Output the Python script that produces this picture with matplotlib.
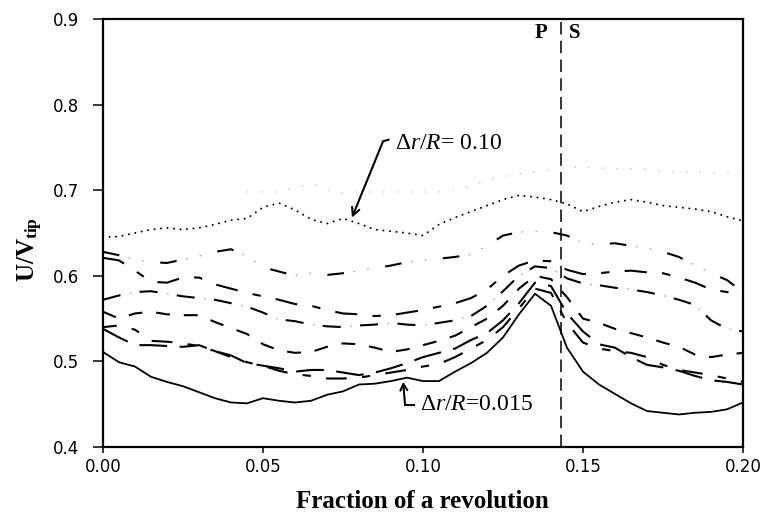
import matplotlib
matplotlib.use("Agg")
import matplotlib.pyplot as plt
from matplotlib.ticker import FormatStrFormatter

# Sampling positions (fraction of a revolution)
x_frac = [0.000, 0.005, 0.010, 0.015, 0.020, 0.025, 0.030, 0.035, 0.040, 0.045,
          0.050, 0.055, 0.060, 0.065, 0.070, 0.075, 0.080, 0.085, 0.090, 0.095,
          0.100, 0.105, 0.110, 0.115, 0.120, 0.125, 0.130, 0.135, 0.140, 0.145,
          0.150, 0.155, 0.160, 0.165, 0.170, 0.175, 0.180, 0.185, 0.190, 0.195,
          0.200]

# U/Vtip traces, outermost (dr/R = 0.10) to innermost (dr/R = 0.015)
u_dr_010 = [0.645, 0.646, 0.650, 0.654, 0.656, 0.654, 0.656, 0.660, 0.665, 0.667,
            0.680, 0.685, 0.677, 0.666, 0.661, 0.667, 0.661, 0.654, 0.652, 0.650,
            0.647, 0.660, 0.668, 0.675, 0.682, 0.689, 0.694, 0.692, 0.689, 0.684,
            0.675, 0.681, 0.686, 0.689, 0.686, 0.682, 0.680, 0.678, 0.675, 0.669,
            0.664]
u_trace_2 = [0.628, 0.624, 0.619, 0.616, 0.615, 0.619, 0.623, 0.628, 0.631, 0.623,
             0.610, 0.605, 0.600, 0.603, 0.601, 0.603, 0.606, 0.609, 0.612, 0.616,
             0.618, 0.620, 0.622, 0.625, 0.635, 0.647, 0.651, 0.652, 0.651, 0.647,
             0.638, 0.637, 0.638, 0.635, 0.632, 0.628, 0.622, 0.612, 0.603, 0.595,
             0.581]
u_trace_3 = [0.621, 0.618, 0.606, 0.593, 0.592, 0.598, 0.598, 0.590, 0.585, 0.580,
             0.576, 0.572, 0.567, 0.565, 0.560, 0.556, 0.555, 0.553, 0.554, 0.557,
             0.560, 0.564, 0.568, 0.574, 0.584, 0.600, 0.612, 0.618, 0.617, 0.607,
             0.602, 0.603, 0.605, 0.606, 0.604, 0.603, 0.598, 0.592, 0.584, 0.581,
             0.578]
u_trace_4 = [0.572, 0.577, 0.581, 0.582, 0.579, 0.576, 0.574, 0.572, 0.568, 0.564,
             0.557, 0.549, 0.547, 0.543, 0.541, 0.540, 0.542, 0.543, 0.545, 0.543,
             0.542, 0.545, 0.548, 0.553, 0.565, 0.582, 0.600, 0.611, 0.609, 0.597,
             0.591, 0.589, 0.586, 0.584, 0.581, 0.577, 0.572, 0.566, 0.548, 0.538,
             0.535]
u_trace_5 = [0.558, 0.550, 0.556, 0.558, 0.555, 0.554, 0.554, 0.546, 0.539, 0.532,
             0.520, 0.513, 0.510, 0.511, 0.517, 0.521, 0.520, 0.516, 0.511, 0.514,
             0.519, 0.524, 0.530, 0.540, 0.550, 0.565, 0.585, 0.600, 0.596, 0.575,
             0.550, 0.545, 0.538, 0.533, 0.528, 0.522, 0.517, 0.508, 0.505, 0.508,
             0.510]
u_trace_6 = [0.538, 0.528, 0.519, 0.519, 0.518, 0.517, 0.519, 0.512, 0.507, 0.498,
             0.495, 0.492, 0.488, 0.490, 0.490, 0.487, 0.484, 0.487, 0.492, 0.498,
             0.505, 0.510, 0.515, 0.525, 0.533, 0.548, 0.568, 0.592, 0.588, 0.556,
             0.535, 0.520, 0.516, 0.505, 0.496, 0.493, 0.489, 0.483, 0.478, 0.476,
             0.473]
u_trace_7 = [0.540, 0.542, 0.537, 0.524, 0.523, 0.521, 0.518, 0.512, 0.505, 0.499,
             0.495, 0.489, 0.485, 0.483, 0.480, 0.480, 0.481, 0.484, 0.487, 0.490,
             0.494, 0.497, 0.505, 0.515, 0.525, 0.540, 0.562, 0.585, 0.580, 0.545,
             0.522, 0.515, 0.512, 0.510, 0.505, 0.496, 0.490, 0.487, 0.484, 0.480,
             0.476]
u_dr_0015 = [0.511, 0.499, 0.494, 0.482, 0.476, 0.471, 0.464, 0.457, 0.452, 0.451,
             0.457, 0.454, 0.452, 0.454, 0.461, 0.465, 0.473, 0.474, 0.477, 0.481,
             0.477, 0.477, 0.488, 0.498, 0.510, 0.528, 0.555, 0.579, 0.565, 0.516,
             0.488, 0.473, 0.462, 0.451, 0.442, 0.440, 0.438, 0.440, 0.441, 0.444,
             0.452]

# faint trace above the outermost curve (starts at x = 0.045)
faint_start = 9
u_faint = [0.698, 0.698, 0.698, 0.703, 0.708, 0.700, 0.697, 0.698, 0.698, 0.698,
           0.698, 0.698, 0.698, 0.700, 0.705, 0.712, 0.716, 0.719, 0.721, 0.724,
           0.727, 0.727, 0.726, 0.725, 0.725, 0.724, 0.722, 0.721, 0.721, 0.720,
           0.720, 0.720]

blade_passage = 0.143          # pressure / suction side boundary
x_ticks = [0.00, 0.05, 0.10, 0.15, 0.20]
y_ticks = [0.4, 0.5, 0.6, 0.7, 0.8, 0.9]

plt.rcParams["lines.scale_dashes"] = False
plt.rcParams["mathtext.fontset"] = "custom"
plt.rcParams["mathtext.rm"] = "Liberation Serif"
plt.rcParams["mathtext.it"] = "Liberation Serif:italic"
plt.rcParams["mathtext.bf"] = "Liberation Serif:bold"

W, H = 767, 516
fig = plt.figure(figsize=(W / 100, H / 100), dpi=100)
ax = fig.add_axes([103 / W, 1 - 447 / H, 640 / W, 428 / H])

k = "black"
ax.plot(x_frac[faint_start:], u_faint, color="#c4c4c4", lw=1.0,
        linestyle=(0, (1.0, 9.0)))
ax.plot(x_frac, u_dr_010, color=k, lw=1.4, linestyle=(0, (0.1, 4.6)),
        dash_capstyle="round")
# long dash with faint dots in between
ax.plot(x_frac, u_trace_2, color=k, lw=1.5, linestyle=(0, (12.0, 30.0)))
ax.plot(x_frac, u_trace_2, color="#9a9a9a", lw=1.0, linestyle=(23, (1.0, 9.0, 1.0, 31.0)))
ax.plot(x_frac, u_trace_3, color=k, lw=1.5, linestyle=(0, (16.0, 11.0, 6.0, 11.0)))
ax.plot(x_frac, u_trace_4, color=k, lw=1.5, linestyle=(0, (13.0, 14.0)))
ax.plot(x_frac, u_trace_4, color="#9a9a9a", lw=1.0, linestyle=(7, (1.0, 26.0)))
ax.plot(x_frac, u_trace_5, color=k, lw=1.5, linestyle=(0, (10.0, 10.0)))
ax.plot(x_frac, u_trace_6, color=k, lw=1.5, linestyle=(0, (20.0, 9.0)))
ax.plot(x_frac, u_trace_7, color=k, lw=1.5, linestyle=(5, (15.0, 11.0, 6.0, 11.0)))
ax.plot(x_frac, u_dr_0015, color=k, lw=1.3, linestyle="-")

ax.axvline(blade_passage, color=k, lw=1.1, linestyle=(0, (9.0, 4.5)))

serif = "Liberation Serif"
ax.text(0.1388, 0.884, "P", ha="right", va="center", fontsize=15,
        fontweight="bold", family=serif)
ax.text(0.1455, 0.884, "S", ha="left", va="center", fontsize=15,
        fontweight="bold", family=serif)

# dr/R = 0.10 label and arrow
ax.annotate("", xy=(0.0778, 0.668), xytext=(0.0875, 0.757),
            arrowprops=dict(arrowstyle="->,head_length=0.55,head_width=0.28",
                            lw=1.5, color=k, shrinkA=0, shrinkB=0))
ax.plot([0.0875, 0.0892], [0.757, 0.759], color=k, lw=1.5)
ax.text(0.0913, 0.754, r"$\Delta r/R$= 0.10", ha="left", va="center",
        fontsize=17, family=serif)

# dr/R = 0.015 label and arrow
ax.annotate("", xy=(0.0938, 0.476), xytext=(0.0944, 0.449),
            arrowprops=dict(arrowstyle="->,head_length=0.45,head_width=0.25",
                            lw=1.5, color=k, shrinkA=0, shrinkB=0))
ax.plot([0.0944, 0.0972], [0.449, 0.449], color=k, lw=1.5)
ax.text(0.0991, 0.450, r"$\Delta r/R$=0.015", ha="left", va="center",
        fontsize=17, family=serif)

ax.set_xlim(0.0, 0.2)
ax.set_ylim(0.4, 0.9)
ax.set_xticks(x_ticks)
ax.set_yticks(y_ticks)
ax.xaxis.set_major_formatter(FormatStrFormatter("%.2f"))
ax.yaxis.set_major_formatter(FormatStrFormatter("%.1f"))
ax.tick_params(axis="x", direction="out", length=4.5, width=1.1, pad=3.5,
               labelsize=12)
ax.tick_params(axis="y", direction="out", length=7.5, width=1.1, pad=10,
               labelsize=12)
for s in ax.spines.values():
    s.set_linewidth(1.6)

fig.text(422 / W, 1 - 502 / H, "Fraction of a revolution", ha="center",
         va="center", fontsize=18, fontweight="bold", family=serif)
fig.text(30 / W, 1 - 250 / H, r"$\mathbf{U/V_{tip}}$", ha="center",
         va="center", rotation=90, fontsize=18)

fig.savefig("out.png", dpi=100)
